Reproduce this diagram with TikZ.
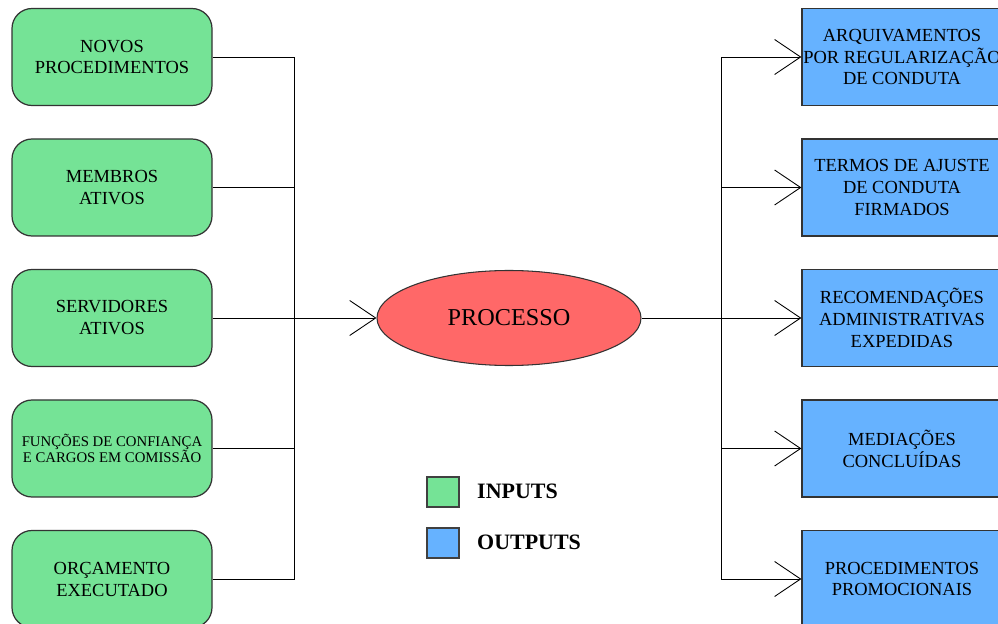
\documentclass[tikz,border=0pt]{standalone}
\usepackage{fontspec}
\setmainfont{Liberation Serif}
\usetikzlibrary{arrows.meta,shapes.geometric}
\definecolor{ingreen}{RGB}{117,227,150}
\definecolor{outblue}{RGB}{102,178,255}
\definecolor{procred}{RGB}{255,104,104}
\begin{document}
\begin{tikzpicture}[
  inbox/.style={draw=black!80, line width=0.7pt, fill=ingreen, rounded corners=0.4cm,
    minimum width=4cm, minimum height=1.94cm, align=center, inner xsep=0pt,
    font=\fontsize{10.5}{12.5}\selectfont},
  outbox/.style={draw=black!80, line width=0.7pt, fill=outblue,
    minimum width=4cm, minimum height=1.94cm, align=center, inner xsep=0pt,
    font=\fontsize{10.5}{12.4}\selectfont},
  legendbox/.style={draw=black!75, line width=0.7pt, minimum width=0.64cm, minimum height=0.6cm, inner sep=0pt},
  legendtext/.style={anchor=west, font=\bfseries\fontsize{12.5}{14}\selectfont},
  link/.style={line width=0.5pt},
  tip/.style={link, -{Straight Barb[length=0.52cm, width=0.7cm, line width=0.5pt]}}
]
\useasboundingbox (0,0) rectangle (19.96,12.46);

% inputs
\node[inbox] (in1) at (2.24,11.32) {NOVOS\\PROCEDIMENTOS};
\node[inbox] (in2) at (2.24,8.71) {MEMBROS\\ATIVOS};
\node[inbox] (in3) at (2.24,6.10) {SERVIDORES\\ATIVOS};
\node[inbox, font=\fontsize{8.4}{9.2}\selectfont] (in4) at (2.24,3.49) {FUNÇÕES DE CONFIANÇA\\E CARGOS EM COMISSÃO};
\node[inbox] (in5) at (2.24,0.88) {ORÇAMENTO\\EXECUTADO};

% process
\node[ellipse, draw=black!80, line width=0.6pt, fill=procred, minimum width=5.28cm, minimum height=1.9cm,
  font=\fontsize{13.8}{16}\selectfont] (proc) at (10.18,6.10) {PROCESSO};

% outputs
\node[outbox] (out1) at (18.04,11.32) {ARQUIVAMENTOS\\POR REGULARIZAÇÃO\\DE CONDUTA};
\node[outbox] (out2) at (18.04,8.71) {TERMOS DE AJUSTE\\DE CONDUTA\\FIRMADOS};
\node[outbox] (out3) at (18.04,6.10) {RECOMENDAÇÕES\\ADMINISTRATIVAS\\EXPEDIDAS};
\node[outbox] (out4) at (18.04,3.49) {MEDIAÇÕES\\CONCLUÍDAS};
\node[outbox] (out5) at (18.04,0.88) {PROCEDIMENTOS\\PROMOCIONAIS};

% junctions
\coordinate (jin) at (5.88,6.10);
\coordinate (jout) at (14.42,6.10);

\draw[link] (in1.east) -| (jin);
\draw[link] (in2.east) -| (jin);
\draw[link] (in3.east) -- (jin);
\draw[link] (in4.east) -| (jin);
\draw[link] (in5.east) -| (jin);
\draw[tip] (jin) -- (proc.west);

\draw[link] (proc.east) -- (jout);
\draw[tip] (jout) |- (out1.west);
\draw[tip] (jout) |- (out2.west);
\draw[tip] (jout) -- (out3.west);
\draw[tip] (jout) |- (out4.west);
\draw[tip] (jout) |- (out5.west);

% legend
\node[legendbox, fill=ingreen] (keyin) at (8.86,2.62) {};
\node[legendbox, fill=outblue] (keyout) at (8.86,1.60) {};
\node[legendtext] (keyintext) at (9.42,2.64) {INPUTS};
\node[legendtext] (keyouttext) at (9.42,1.62) {OUTPUTS};
\end{tikzpicture}
\end{document}
